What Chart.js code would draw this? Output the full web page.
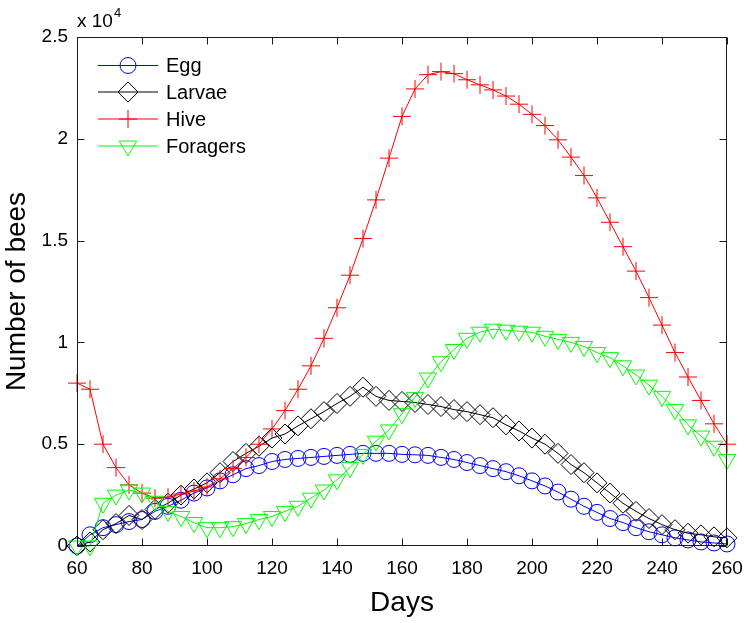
<!DOCTYPE html>
<html>
<head>
<meta charset="utf-8">
<script src="https://cdn.jsdelivr.net/npm/chart.js@4.4.0/dist/chart.umd.min.js"></script>
<style>
  html, body { margin: 0; padding: 0; background: #fff; }
</style>
</head>
<body>
<canvas id="myChart" width="748" height="623"></canvas>
<script>
var days = [60, 64, 68, 72, 76, 80, 84, 88, 92, 96, 100, 104, 108, 112, 116, 120, 124, 128, 132, 136,
    140, 144, 148, 152, 156, 160, 164, 168, 172, 176, 180, 184, 188, 192, 196, 200, 204, 208, 212, 216,
    220, 224, 228, 232, 236, 240, 244, 248, 252, 256, 260];

var egg = [0, 550, 900, 1050, 1200, 1300, 1700, 1950, 2250, 2600, 2850, 3200, 3500, 3800, 3950, 4150, 4250, 4300, 4350, 4400,
    4450, 4500, 4550, 4550, 4550, 4500, 4480, 4450, 4350, 4250, 4100, 3950, 3800, 3650, 3450, 3200, 2950, 2650, 2300, 1950,
    1650, 1350, 1150, 900, 700, 550, 400, 300, 200, 150, 100];

var larvae = [0, 200, 800, 1100, 1500, 1300, 1800, 2100, 2500, 2800, 3100, 3600, 4150, 4550, 4900, 5300, 5500, 5900, 6250, 6600,
    7000, 7350, 7800, 7350, 7150, 7100, 7050, 6950, 6850, 6700, 6600, 6450, 6300, 5950, 5650, 5300, 5000, 4550, 4000, 3600,
    3100, 2600, 2100, 1700, 1350, 1050, 800, 630, 550, 450, 400];

var hive = [8000, 7700, 5000, 3850, 3000, 2600, 2350, 2400, 2550, 2700, 2900, 3300, 3800, 4350, 5000, 5750, 6650, 7700, 8850, 10200,
    11700, 13300, 15100, 17000, 19050, 21100, 22450, 23150, 23300, 23200, 22900, 22650, 22400, 22100, 21700, 21200, 20650, 19950, 19100, 18200,
    17100, 15900, 14700, 13500, 12200, 10850, 9500, 8300, 7150, 6000, 5000];

var foragers = [0, 0, 2100, 2500, 2750, 2600, 2200, 1700, 1450, 1150, 900, 900, 950, 1100, 1300, 1450, 1700, 1950, 2350, 2750,
    3250, 3850, 4500, 5150, 5700, 6500, 7300, 8250, 9050, 9650, 10200, 10500, 10650, 10600, 10550, 10500, 10300, 10150, 10000, 9800,
    9500, 9250, 8850, 8400, 7900, 7350, 6700, 5950, 5400, 4900, 4250];

var xTicks = [60, 80, 100, 120, 140, 160, 180, 200, 220, 240, 260];
var yTicks = [0, 5000, 10000, 15000, 20000, 25000];

var FONT = '"Liberation Sans", Arial, Helvetica, sans-serif';
var NONE = 'rgba(0,0,0,0)';

function points(values) {
    return values.map(function (v, i) { return { x: days[i], y: v }; });
}

function series(label, values, color, style, radius, rotation, order) {
    return {
        label: label,
        data: points(values),
        borderColor: color,
        backgroundColor: NONE,
        borderWidth: 1,
        pointStyle: style,
        pointRadius: radius,
        pointRotation: rotation,
        pointBorderColor: color,
        pointBackgroundColor: NONE,
        pointBorderWidth: 1,
        tension: 0,
        clip: false,
        order: order
    };
}

// box, inward ticks, exponent and the legend, MATLAB style
var axesBox = {
    id: 'axesBox',
    afterDraw: function (chart) {
        var ctx = chart.ctx, a = chart.chartArea;
        var xs = chart.scales.x, ys = chart.scales.y;
        var L = Math.round(a.left) + 0.5, R = Math.round(a.right) - 0.5;
        var T = Math.round(a.top) + 0.5, B = Math.round(a.bottom) - 0.5;
        ctx.save();
        ctx.strokeStyle = '#1a1a1a';
        ctx.lineWidth = 1;
        ctx.strokeRect(L, T, R - L, B - T);
        ctx.beginPath();
        xTicks.forEach(function (v) {
            var p = Math.round(xs.getPixelForValue(v)) + 0.5;
            ctx.moveTo(p, B); ctx.lineTo(p, B - 7);
            ctx.moveTo(p, T); ctx.lineTo(p, T + 7);
        });
        yTicks.forEach(function (v) {
            var p = Math.round(ys.getPixelForValue(v)) + 0.5;
            ctx.moveTo(L, p); ctx.lineTo(L + 7, p);
            ctx.moveTo(R, p); ctx.lineTo(R - 7, p);
        });
        ctx.stroke();

        // x 10^4
        ctx.fillStyle = '#000';
        ctx.textBaseline = 'alphabetic';
        ctx.textAlign = 'left';
        ctx.font = '19px ' + FONT;
        ctx.fillText('x 10', a.left, 27);
        var w = ctx.measureText('x 10').width;
        ctx.font = '13px ' + FONT;
        ctx.fillText('4', a.left + w + 1, 17);

        // legend
        var rows = [65.5, 92, 119, 146];
        chart.data.datasets.forEach(function (ds, i) {
            var y = rows[i];
            ctx.strokeStyle = ds.borderColor;
            ctx.lineWidth = 1;
            ctx.beginPath();
            ctx.moveTo(98, y); ctx.lineTo(158, y);
            ctx.stroke();
            ctx.fillStyle = NONE;
            Chart.helpers.drawPoint(ctx, {
                pointStyle: ds.pointStyle,
                radius: ds.pointRadius,
                rotation: ds.pointRotation,
                borderWidth: 1
            }, 128, y);
            ctx.fillStyle = '#000';
            ctx.font = '20px ' + FONT;
            ctx.textBaseline = 'middle';
            ctx.fillText(ds.label, 166, y + 1);
        });
        ctx.restore();
    }
};

var ctx = document.getElementById('myChart');
new Chart(ctx, {
    type: 'line',
    data: {
        datasets: [
            series('Egg', egg, '#0000ff', 'circle', 8, 0, 3),
            series('Larvae', larvae, '#000000', 'rectRot', 10, 0, 2),
            series('Hive', hive, '#ff0000', 'cross', 9, 0, 1),
            series('Foragers', foragers, '#00ff00', 'triangle', 10, 180, 0)
        ]
    },
    options: {
        responsive: false,
        animation: false,
        layout: { padding: { top: 37, right: 21, left: 0, bottom: 0 } },
        plugins: {
            legend: { display: false },
            tooltip: { enabled: false }
        },
        scales: {
            x: {
                type: 'linear',
                min: 60,
                max: 260,
                afterBuildTicks: function (scale) {
                    scale.ticks = xTicks.map(function (v) { return { value: v }; });
                },
                afterFit: function (scale) {
                    scale.height = 77;
                    scale.paddingLeft = 0;
                    scale.paddingRight = 0;
                },
                grid: { display: false, drawTicks: false },
                border: { display: false },
                ticks: {
                    color: '#000',
                    padding: 11,
                    maxRotation: 0,
                    font: { family: FONT, size: 19 }
                },
                title: {
                    display: true,
                    text: 'Days',
                    color: '#000',
                    padding: { top: 0, bottom: 3 },
                    font: { family: FONT, size: 28 }
                }
            },
            y: {
                min: 0,
                max: 25000,
                afterBuildTicks: function (scale) {
                    scale.ticks = yTicks.map(function (v) { return { value: v }; });
                },
                afterFit: function (scale) {
                    scale.width = 77;
                },
                grid: { display: false, drawTicks: false },
                border: { display: false },
                ticks: {
                    color: '#000',
                    padding: 9,
                    font: { family: FONT, size: 19 },
                    callback: function (v) { return String(v / 10000); }
                },
                title: {
                    display: true,
                    text: 'Number of bees',
                    color: '#000',
                    padding: { top: 0, bottom: 0 },
                    font: { family: FONT, size: 28 }
                }
            }
        }
    },
    plugins: [axesBox]
});
</script>
</body>
</html>
